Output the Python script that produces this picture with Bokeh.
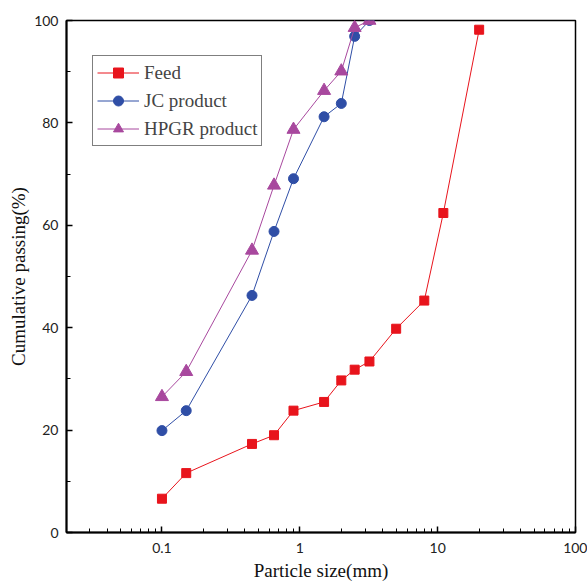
from bokeh.plotting import figure
from bokeh.models import Range1d, FixedTicker, Legend, LegendItem, CustomJSTickFormatter
from bokeh.embed import file_html
from bokeh.resources import INLINE

# Data
feed_size = [0.1, 0.15, 0.45, 0.65, 0.9, 1.5, 2.0, 2.5, 3.2, 5.0, 8.0, 11.0, 20.0]
feed_pass = [6.6, 11.6, 17.3, 19.0, 23.8, 25.5, 29.7, 31.8, 33.4, 39.8, 45.3, 62.4, 98.2]

jc_size = [0.1, 0.15, 0.45, 0.65, 0.9, 1.5, 2.0, 2.5, 3.2]
jc_pass = [19.9, 23.8, 46.3, 58.8, 69.1, 81.2, 83.8, 96.9, 100.0]

hpgr_size = [0.1, 0.15, 0.45, 0.65, 0.9, 1.5, 2.0, 2.5, 3.2]
hpgr_pass = [26.5, 31.4, 55.1, 67.8, 78.7, 86.3, 90.1, 98.6, 100.0]

x_ticks = [0.1, 1, 10, 100]
y_ticks = [0, 20, 40, 60, 80, 100]

p = figure(width=587, height=584, x_axis_type="log",
           x_range=Range1d(0.0203, 100), y_range=Range1d(0, 100),
           output_backend="svg", toolbar_location=None,
           min_border_left=66, min_border_right=12, min_border_top=20, min_border_bottom=52)
p.background_fill_color = "white"
p.border_fill_color = "white"
p.grid.visible = False
p.outline_line_color = "black"
p.outline_line_width = 1.5

red = "#e8141c"
blue = "#2f4ea6"
purple = "#a8489e"

r1l = p.line(feed_size, feed_pass, line_color=red, line_width=1)
r1m = p.scatter(feed_size, feed_pass, marker="square", size=9, fill_color=red, line_color=red)
r2l = p.line(jc_size, jc_pass, line_color=blue, line_width=1)
r2m = p.scatter(jc_size, jc_pass, marker="circle", size=10, fill_color=blue, line_color=blue)
r3l = p.line(hpgr_size, hpgr_pass, line_color=purple, line_width=1)
r3m = p.scatter(hpgr_size, hpgr_pass, marker="triangle", size=13, fill_color=purple, line_color=purple)

legend = Legend(items=[
    LegendItem(label="Feed", renderers=[r1l, r1m]),
    LegendItem(label="JC product", renderers=[r2l, r2m]),
    LegendItem(label="HPGR product", renderers=[r3l, r3m]),
], location=(26, 386))
legend.label_text_font = "Liberation Serif"
legend.label_text_font_size = "19px"
legend.border_line_color = "black"
legend.border_line_width = 1
legend.glyph_width = 42
legend.glyph_height = 25
legend.label_height = 25
legend.spacing = 3
legend.padding = 4
legend.margin = 0
legend.label_standoff = 5
p.add_layout(legend)

xa = p.xaxis[0]
xa.ticker = FixedTicker(ticks=x_ticks, minor_ticks=[a * b for b in [0.01, 0.1, 1, 10] for a in range(2, 10)])
xa.formatter = CustomJSTickFormatter(code="return tick < 1 ? tick.toString() : tick.toFixed(0);")
xa.axis_label = "Particle size(mm)"
ya = p.yaxis[0]
ya.ticker = FixedTicker(ticks=y_ticks, minor_ticks=[10, 30, 50, 70, 90])
ya.axis_label = "Cumulative passing(%)"

for ax in (xa, ya):
    ax.axis_line_color = "black"
    ax.axis_line_width = 2
    ax.major_tick_in = 6
    ax.major_tick_out = 0
    ax.minor_tick_in = 4
    ax.minor_tick_out = 0
    ax.major_tick_line_width = 1.5
    ax.minor_tick_line_width = 1
    ax.major_tick_line_color = "black"
    ax.minor_tick_line_color = "black"
    ax.major_label_text_font = "Lato"
    ax.major_label_text_font_size = "14px"
    ax.major_label_text_color = "#222222"
    ax.axis_label_text_font = "Liberation Serif"
    ax.axis_label_text_font_size = "19px"
    ax.axis_label_text_font_style = "normal"
    ax.axis_label_text_color = "#111111"

xa.major_label_standoff = 10
xa.axis_label_standoff = 4
ya.major_label_standoff = 8
ya.axis_label_standoff = 2

open("out.html", "w").write(file_html(p, INLINE))
